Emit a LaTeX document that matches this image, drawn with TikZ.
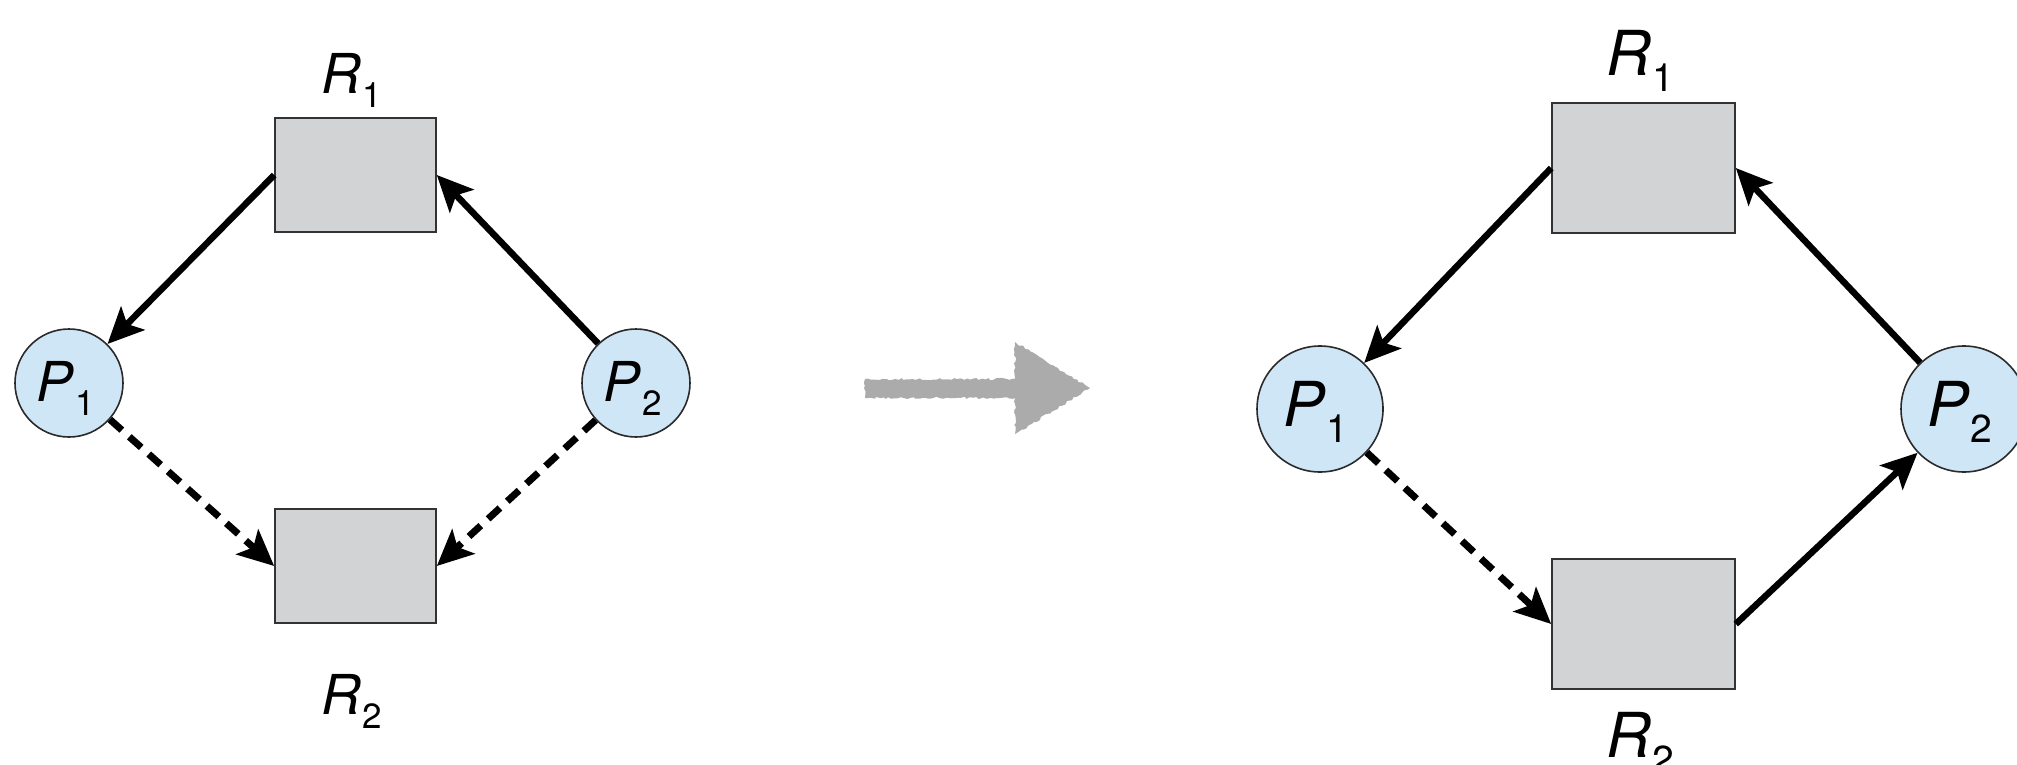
\documentclass[tikz,border=0pt]{standalone}
\usepackage{fontspec}
\setmainfont{TeX Gyre Heros}
\usetikzlibrary{arrows.meta,decorations.pathmorphing}

\definecolor{resgray}{HTML}{D1D3D4}
\definecolor{procblue}{HTML}{CFE6F6}
\definecolor{procedge}{HTML}{2A2A2A}
\definecolor{hintgray}{HTML}{ABABAB}

% label with an upright subscript, small and large sizes
\newcommand\labA[2]{\fontsize{55}{60}\selectfont\textit{#1}\kern1pt\raisebox{-14pt}{\fontsize{35}{38}\selectfont #2}}
\newcommand\labB[2]{\fontsize{62}{68}\selectfont\textit{#1}\kern1pt\raisebox{-16pt}{\fontsize{39}{42}\selectfont #2}}

\begin{document}
\begin{tikzpicture}[x=1pt,y=-1pt,
  res/.style={rectangle, draw=black!80, line width=1.6pt, fill=resgray, inner sep=0pt},
  proc/.style={circle, draw=procedge, line width=1.6pt, fill=procblue, inner sep=0pt},
  tip/.style={-{Stealth[length=36pt,width=33pt,inset=8pt]}},
  edge/.style={line width=6.5pt, tip},
  req/.style={line width=7pt, dash pattern=on 16pt off 10pt, tip},
  lbl/.style={anchor=base, inner sep=0pt}]
\useasboundingbox (0,0) rectangle (2017,765);

% ---- before: request edge P2 -> R2 still pending ----
\node[res, minimum width=161pt, minimum height=114pt] (R1a) at (355.5,175) {};
\node[res, minimum width=161pt, minimum height=114pt] (R2a) at (355.5,566) {};
\node[proc, minimum size=108pt] (P1a) at (69,383) {};
\node[proc, minimum size=108pt] (P2a) at (636,383) {};
\node[lbl] (R1al) at (352,94) {\labA{R}{1}};
\node[lbl] (R2al) at (352,714) {\labA{R}{2}};
\node[lbl] (P1al) at (66,401) {\labA{P}{1}};
\node[lbl] (P2al) at (633,401) {\labA{P}{2}};

\draw[edge] (R1a.west) -- (P1a);
\draw[edge] (P2a) -- (R1a.east);
\draw[req] (P1a) -- (R2a.west);
\draw[req] (P2a) -- (R2a.east);

% ---- transition arrow, chalky outline ----
\fill[hintgray, decorate, decoration={random steps, segment length=3pt, amplitude=1.2pt}]
  (865,379) -- (1015,379) -- (1015,342) -- (1090,388)
  -- (1015,434) -- (1015,398) -- (865,398) -- cycle;

% ---- after: R2 assigned to P2 ----
\node[res, minimum width=183pt, minimum height=130pt] (R1b) at (1643.5,168) {};
\node[res, minimum width=183pt, minimum height=130pt] (R2b) at (1643.5,624) {};
\node[proc, minimum size=126pt] (P1b) at (1320,409) {};
\node[proc, minimum size=126pt] (P2b) at (1964,409) {};
\node[lbl] (R1bl) at (1640,76) {\labB{R}{1}};
\node[lbl] (R2bl) at (1640,757) {\labB{R}{2}};
\node[lbl] (P1bl) at (1316,426) {\labB{P}{1}};
\node[lbl] (P2bl) at (1960,426) {\labB{P}{2}};

\draw[edge] (R1b.west) -- (P1b);
\draw[edge] (P2b) -- (R1b.east);
\draw[req] (P1b) -- (R2b.west);
\draw[edge] (R2b.east) -- (P2b);
\end{tikzpicture}
\end{document}
